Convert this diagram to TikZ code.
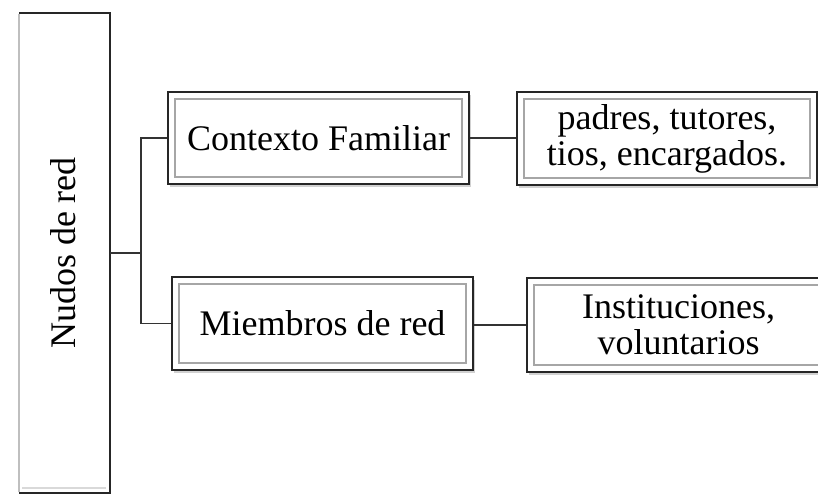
\documentclass[tikz,border=0pt]{standalone}
\usepackage{fontspec}
\setmainfont{Liberation Serif}
\usetikzlibrary{shadows,calc}
\tikzset{
  x=1pt, y=-1pt,
  framebox/.style={draw=black!85, line width=2pt, fill=white, inner sep=0pt,
    align=center, font=\fontsize{36}{36}\selectfont,
    drop shadow={shadow xshift=2pt, shadow yshift=-3pt, opacity=0.18, fill=black},
    path picture={\draw[black!35, line width=1.6pt]
      ([shift={(7pt,-7pt)}]path picture bounding box.north west) rectangle
      ([shift={(-7pt,7pt)}]path picture bounding box.south east);}},
  conn/.style={draw=black!80, line width=1.3pt},
}
\begin{document}
\begin{tikzpicture}
\useasboundingbox (0,0) rectangle (818,495);
% left box
\fill[white] (18,13) rectangle (110,493);
\draw[black!25, line width=2pt] (19,14) -- (19,492);
\draw[black!15, line width=1.2pt] (22,488) -- (106,488);
\draw[black!85, line width=2pt] (19,13) -- (110,13) -- (110,493) -- (19,493);
\node[rotate=90, font=\fontsize{36}{36}\selectfont] (N) at (63,253) {Nudos de red};
\coordinate (Nr) at (110,253);
% boxes
\node[framebox, minimum width=301pt, minimum height=92pt] (A) at (318.5,138) {Contexto Familiar};
\node[framebox, minimum width=300pt, minimum height=93pt] (B) at (667,138.5) {padres, tutores,\\tios, encargados.};
\node[framebox, minimum width=301pt, minimum height=93pt] (C) at (322.5,323.5) {Miembros de red};
\node[framebox, minimum width=303pt, minimum height=94pt] (D) at (678.5,325) {Instituciones,\\voluntarios};
% connectors
\coordinate (J) at (141,253);
\draw[conn] (Nr) -- (J);
\draw[conn] (A.west) -| (J);
\draw[conn] (C.west) -| (J);
\draw[conn] (A.east) -- (A.east -| B.west);
\draw[conn] (C.east |- D.west) -- (D.west);
\end{tikzpicture}
\end{document}
